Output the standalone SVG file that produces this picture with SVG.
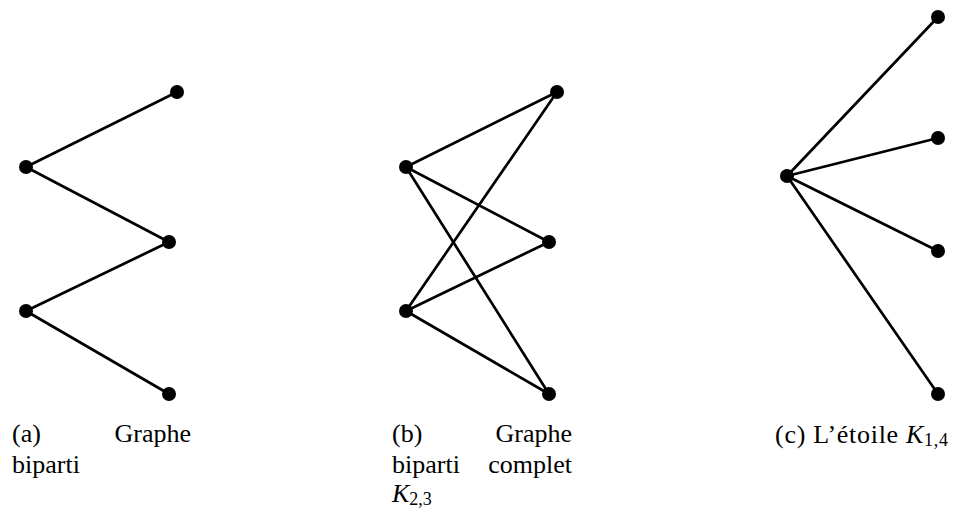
<svg xmlns="http://www.w3.org/2000/svg" width="955" height="510" viewBox="0 0 955 510">
<style>
.e{stroke:#000;stroke-width:2.7;stroke-linecap:round;fill:none}
.n{fill:#000}
.t{font-family:"Liberation Serif","DejaVu Serif",serif;font-size:26px;fill:#000}
.k{font-style:italic}
.s{font-size:18px}
</style>
<rect width="955" height="510" fill="#fff"/>
<g id="connectors">
<line class="e" x1="26" y1="167" x2="177" y2="92"/>
<line class="e" x1="26" y1="167" x2="169" y2="242"/>
<line class="e" x1="26" y1="311" x2="169" y2="242"/>
<line class="e" x1="26" y1="311" x2="169" y2="394"/>
<line class="e" x1="406" y1="167" x2="557" y2="92"/>
<line class="e" x1="406" y1="167" x2="549" y2="242"/>
<line class="e" x1="406" y1="167" x2="549" y2="394"/>
<line class="e" x1="406" y1="311" x2="557" y2="92"/>
<line class="e" x1="406" y1="311" x2="549" y2="242"/>
<line class="e" x1="406" y1="311" x2="549" y2="394"/>
<line class="e" x1="787" y1="176" x2="938" y2="17"/>
<line class="e" x1="787" y1="176" x2="938" y2="138"/>
<line class="e" x1="787" y1="176" x2="938" y2="251"/>
<line class="e" x1="787" y1="176" x2="938" y2="394"/>
</g>
<g id="a1"><circle class="n" cx="26" cy="167" r="7"/></g>
<g id="a2"><circle class="n" cx="26" cy="311" r="7"/></g>
<g id="a3"><circle class="n" cx="177" cy="92" r="7"/></g>
<g id="a4"><circle class="n" cx="169" cy="242" r="7"/></g>
<g id="a5"><circle class="n" cx="169" cy="394" r="7"/></g>
<g id="b1"><circle class="n" cx="406" cy="167" r="7"/></g>
<g id="b2"><circle class="n" cx="406" cy="311" r="7"/></g>
<g id="b3"><circle class="n" cx="557" cy="92" r="7"/></g>
<g id="b4"><circle class="n" cx="549" cy="242" r="7"/></g>
<g id="b5"><circle class="n" cx="549" cy="394" r="7"/></g>
<g id="c0"><circle class="n" cx="787" cy="176" r="7"/></g>
<g id="c1"><circle class="n" cx="938" cy="17" r="7"/></g>
<g id="c2"><circle class="n" cx="938" cy="138" r="7"/></g>
<g id="c3"><circle class="n" cx="938" cy="251" r="7"/></g>
<g id="c4"><circle class="n" cx="938" cy="394" r="7"/></g>
<g id="caption-a" class="t">
<text x="12" y="442">(a)</text>
<text x="191" y="442" text-anchor="end">Graphe</text>
<text x="12" y="473">biparti</text>
</g>
<g id="caption-b" class="t">
<text x="392" y="442">(b)</text>
<text x="572" y="442" text-anchor="end">Graphe</text>
<text x="392" y="473">biparti</text>
<text x="572" y="473" text-anchor="end">complet</text>
<text x="392" y="502"><tspan class="k">K</tspan><tspan class="s" dy="3">2,3</tspan></text>
</g>
<g id="caption-c" class="t">
<text x="775" y="443" textLength="173" lengthAdjust="spacing">(c) L’étoile <tspan class="k">K</tspan><tspan class="s" dy="3">1,4</tspan></text>
</g>
</svg>
